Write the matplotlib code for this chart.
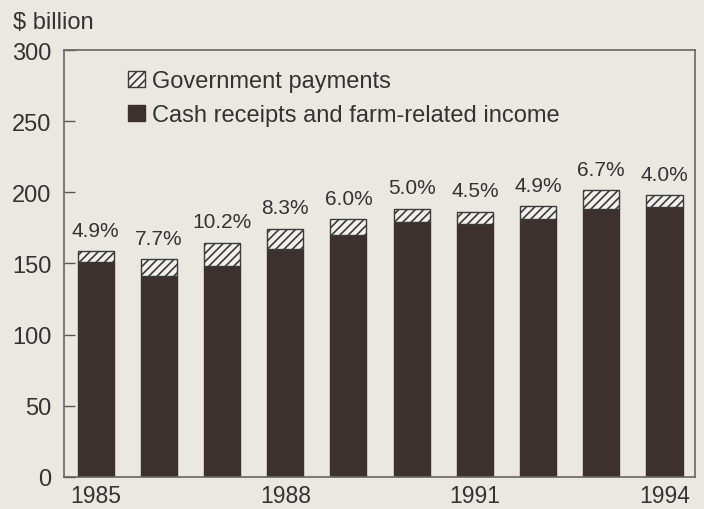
import matplotlib
matplotlib.use('Agg')
import matplotlib.pyplot as plt
from matplotlib.patches import Patch
import numpy as np

plt.rcParams['font.family'] = ['Liberation Sans', 'DejaVu Sans']
plt.rcParams['hatch.linewidth'] = 1.2

years = [1985, 1986, 1987, 1988, 1989, 1990, 1991, 1992, 1993, 1994]
cash = [151, 141, 148, 160, 170, 179, 178, 181, 188, 190]
gov = [7.7, 11.8, 16.7, 14.5, 10.9, 9.4, 8.4, 9.3, 13.5, 7.9]
pct = ['4.9%', '7.7%', '10.2%', '8.3%', '6.0%', '5.0%', '4.5%', '4.9%', '6.7%', '4.0%']
xlabels = ['1985', '', '', '1988', '', '', '1991', '', '', '1994']

bg = '#ebe8e2'
dark = '#3c312e'
txt = '#333333'

fig = plt.figure(figsize=(7.04, 5.10), dpi=100, facecolor=bg)
ax = fig.add_axes([0.091, 0.063, 0.896, 0.837], facecolor=bg)

x = np.arange(len(years))
ax.bar(x, cash, width=0.57, color=dark, edgecolor=dark, linewidth=1)
ax.bar(x, gov, bottom=cash, width=0.57, color='#f3f1ec', edgecolor='#3a3a3a',
       hatch='////', linewidth=1)

for i in range(len(years)):
    ax.text(x[i], cash[i] + gov[i] + 8, pct[i], ha='center', va='bottom',
            fontsize=15, color=txt)

ax.set_xlim(-0.5, 9.48)
ax.set_ylim(0, 300)
ax.set_yticks([0, 50, 100, 150, 200, 250, 300])
ax.set_xticks(x)
ax.set_xticklabels(xlabels)
ax.tick_params(axis='y', direction='in', length=8, width=1, colors='#555555',
               labelcolor=txt, labelsize=17, pad=9)
ax.tick_params(axis='x', length=0, labelcolor=txt, labelsize=16.5, pad=5)
for s in ax.spines.values():
    s.set_color('#666666')
    s.set_linewidth(1.2)

handles = [Patch(facecolor='#f3f1ec', edgecolor='#3a3a3a', hatch='////', linewidth=1),
           Patch(facecolor=dark, edgecolor=dark)]
ax.legend(handles, ['Government payments', 'Cash receipts and farm-related income'],
          loc='upper left', bbox_to_anchor=(0.083, 0.98), frameon=False,
          fontsize=17, handlelength=0.7, handleheight=0.7, handletextpad=0.3,
          labelspacing=0.5, borderpad=0, labelcolor=txt)

fig.text(13 / 704, 1 - 23 / 510, '$ billion', fontsize=17, color=txt, va='center')

fig.savefig('out.png', dpi=100, facecolor=bg)
